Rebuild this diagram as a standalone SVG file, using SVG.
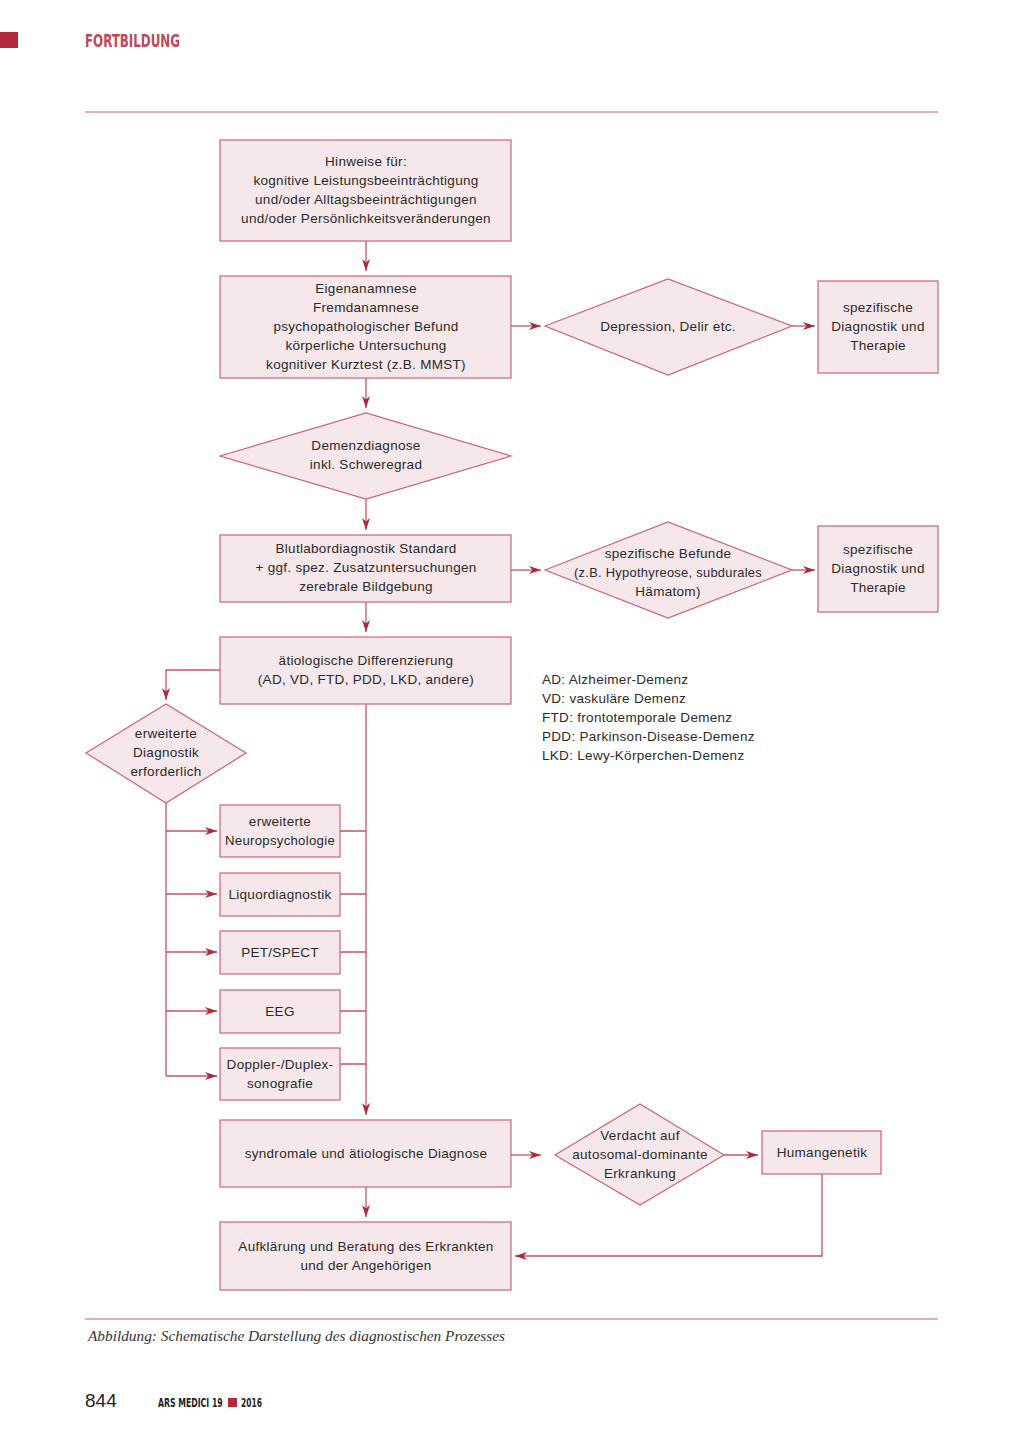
<svg xmlns="http://www.w3.org/2000/svg" width="1024" height="1448" viewBox="0 0 1024 1448">
<defs>
<style>
.n{fill:#f5e7ea;stroke:#cc6475;stroke-width:1.2}
.c{fill:none;stroke:#c65366;stroke-width:1.3}
.t{font-family:"Liberation Sans",Arial,sans-serif;font-size:13.5px;letter-spacing:0.3px;fill:#2b2b2b;text-anchor:middle}
.l{font-family:"Liberation Sans",Arial,sans-serif;font-size:13.5px;letter-spacing:0.3px;fill:#2b2b2b}
.h{font-family:"DejaVu Sans Condensed","Liberation Sans",sans-serif;font-weight:bold}
</style>
<marker id="a" viewBox="0 0 12 8" refX="12" refY="4" markerWidth="12" markerHeight="8" markerUnits="userSpaceOnUse" orient="auto">
<path d="M0,0 L12,4 L0,8 L3.5,4 z" fill="#b0283c"/>
</marker>
</defs>
<rect x="0" y="32" width="18" height="16" fill="#b22a3c"/>
<text x="85" y="47" class="h" font-size="18" fill="#c0475a" textLength="95" lengthAdjust="spacingAndGlyphs">FORTBILDUNG</text>
<line x1="85" y1="112" x2="938" y2="112" stroke="#d8959f" stroke-width="1.3"/>

<g id="connectors">
<path class="c" d="M366,241 V271" marker-end="url(#a)"/>
<path class="c" d="M511,326 H541" marker-end="url(#a)"/>
<path class="c" d="M792,326 H815" marker-end="url(#a)"/>
<path class="c" d="M366,378 V408" marker-end="url(#a)"/>
<path class="c" d="M366,499 V530" marker-end="url(#a)"/>
<path class="c" d="M511,570 H541" marker-end="url(#a)"/>
<path class="c" d="M792,570 H815" marker-end="url(#a)"/>
<path class="c" d="M366,602 V632" marker-end="url(#a)"/>
<path class="c" d="M220,670 H166 V700" marker-end="url(#a)"/>
<path class="c" d="M166,803 V1076"/>
<path class="c" d="M166,831 H217" marker-end="url(#a)"/>
<path class="c" d="M166,894 H217" marker-end="url(#a)"/>
<path class="c" d="M166,952 H217" marker-end="url(#a)"/>
<path class="c" d="M166,1011 H217" marker-end="url(#a)"/>
<path class="c" d="M166,1076 H217" marker-end="url(#a)"/>
<path class="c" d="M366,704 V1115" marker-end="url(#a)"/>
<path class="c" d="M340,831 H366 M340,894 H366 M340,952 H366 M340,1011 H366 M340,1064 H366"/>
<path class="c" d="M511,1155 H541" marker-end="url(#a)"/>
<path class="c" d="M724,1155 H758" marker-end="url(#a)"/>
<path class="c" d="M366,1187 V1217" marker-end="url(#a)"/>
<path class="c" d="M822,1174 V1256 H515" marker-end="url(#a)"/>
</g>

<g id="n1"><rect class="n" x="220" y="140" width="291" height="101"/>
<text class="t"><tspan x="366" y="166">Hinweise für:</tspan><tspan x="366" y="185">kognitive Leistungsbeeinträchtigung</tspan><tspan x="366" y="204">und/oder Alltagsbeeinträchtigungen</tspan><tspan x="366" y="223">und/oder Persönlichkeitsveränderungen</tspan></text></g>

<g id="n2"><rect class="n" x="220" y="276" width="291" height="102"/>
<text class="t"><tspan x="366" y="293">Eigenanamnese</tspan><tspan x="366" y="312">Fremdanamnese</tspan><tspan x="366" y="331">psychopathologischer Befund</tspan><tspan x="366" y="350">körperliche Untersuchung</tspan><tspan x="366" y="369">kognitiver Kurztest (z.B. MMST)</tspan></text></g>

<g id="n3"><polygon class="n" points="545,326 668,279 792,326 668,375"/>
<text class="t" x="668" y="331">Depression, Delir etc.</text></g>

<g id="n4"><rect class="n" x="818" y="281" width="120" height="92"/>
<text class="t"><tspan x="878" y="312">spezifische</tspan><tspan x="878" y="331">Diagnostik und</tspan><tspan x="878" y="350">Therapie</tspan></text></g>

<g id="n5"><polygon class="n" points="220,456 366,413 511,456 366,499"/>
<text class="t"><tspan x="366" y="450">Demenzdiagnose</tspan><tspan x="366" y="469">inkl. Schweregrad</tspan></text></g>

<g id="n6"><rect class="n" x="220" y="535" width="291" height="67"/>
<text class="t"><tspan x="366" y="553">Blutlabordiagnostik Standard</tspan><tspan x="366" y="572">+ ggf. spez. Zusatzuntersuchungen</tspan><tspan x="366" y="591">zerebrale Bildgebung</tspan></text></g>

<g id="n7"><polygon class="n" points="545,570 668,522 792,570 668,618"/>
<text class="t"><tspan x="668" y="558">spezifische Befunde</tspan><tspan x="668" y="577" textLength="188" lengthAdjust="spacingAndGlyphs">(z.B. Hypothyreose, subdurales</tspan><tspan x="668" y="596">Hämatom)</tspan></text></g>

<g id="n8"><rect class="n" x="818" y="526" width="120" height="86"/>
<text class="t"><tspan x="878" y="554">spezifische</tspan><tspan x="878" y="573">Diagnostik und</tspan><tspan x="878" y="592">Therapie</tspan></text></g>

<g id="n9"><rect class="n" x="220" y="637" width="291" height="67"/>
<text class="t"><tspan x="366" y="665">ätiologische Differenzierung</tspan><tspan x="366" y="684">(AD, VD, FTD, PDD, LKD, andere)</tspan></text></g>

<g id="legend"><text class="l"><tspan x="542" y="684">AD: Alzheimer-Demenz</tspan><tspan x="542" y="703">VD: vaskuläre Demenz</tspan><tspan x="542" y="722">FTD: frontotemporale Demenz</tspan><tspan x="542" y="741">PDD: Parkinson-Disease-Demenz</tspan><tspan x="542" y="760">LKD: Lewy-Körperchen-Demenz</tspan></text></g>

<g id="n10"><polygon class="n" points="86,753 166,704 246,753 166,803"/>
<text class="t"><tspan x="166" y="738">erweiterte</tspan><tspan x="166" y="757">Diagnostik</tspan><tspan x="166" y="776">erforderlich</tspan></text></g>

<g id="n11"><rect class="n" x="220" y="805" width="120" height="52"/>
<text class="t"><tspan x="280" y="826">erweiterte</tspan><tspan x="280" y="845" textLength="110" lengthAdjust="spacingAndGlyphs">Neuropsychologie</tspan></text></g>
<g id="n12"><rect class="n" x="220" y="873" width="120" height="43"/>
<text class="t" x="280" y="899">Liquordiagnostik</text></g>
<g id="n13"><rect class="n" x="220" y="931" width="120" height="43"/>
<text class="t" x="280" y="957">PET/SPECT</text></g>
<g id="n14"><rect class="n" x="220" y="990" width="120" height="43"/>
<text class="t" x="280" y="1016">EEG</text></g>
<g id="n15"><rect class="n" x="220" y="1048" width="120" height="52"/>
<text class="t"><tspan x="280" y="1069">Doppler-/Duplex-</tspan><tspan x="280" y="1088">sonografie</tspan></text></g>

<g id="n16"><rect class="n" x="220" y="1120" width="291" height="67"/>
<text class="t" x="366" y="1158">syndromale und ätiologische Diagnose</text></g>

<g id="n17"><polygon class="n" points="555,1155 640,1104 724,1155 640,1205"/>
<text class="t"><tspan x="640" y="1140">Verdacht auf</tspan><tspan x="640" y="1159">autosomal-dominante</tspan><tspan x="640" y="1178">Erkrankung</tspan></text></g>

<g id="n18"><rect class="n" x="762" y="1131" width="119" height="43"/>
<text class="t" x="822" y="1157">Humangenetik</text></g>

<g id="n19"><rect class="n" x="220" y="1222" width="291" height="68"/>
<text class="t"><tspan x="366" y="1251">Aufklärung und Beratung des Erkrankten</tspan><tspan x="366" y="1270">und der Angehörigen</tspan></text></g>

<line x1="85" y1="1319" x2="938" y2="1319" stroke="#d8959f" stroke-width="1.3"/>
<text x="88" y="1341" font-family="Liberation Serif,serif" font-style="italic" font-size="14" fill="#333" textLength="417" lengthAdjust="spacingAndGlyphs">Abbildung: Schematische Darstellung des diagnostischen Prozesses</text>
<text x="85" y="1407" font-family="Liberation Sans,sans-serif" font-size="19" fill="#222">844</text>
<g transform="translate(158,1407) scale(0.72,1)"><text x="0" y="0" class="h" font-size="12" fill="#222">ARS MEDICI 19</text></g>
<rect x="228" y="1398" width="9" height="9" fill="#b22a3c"/>
<g transform="translate(241,1407) scale(0.7,1)"><text x="0" y="0" class="h" font-size="12" fill="#222">2016</text></g>
</svg>
